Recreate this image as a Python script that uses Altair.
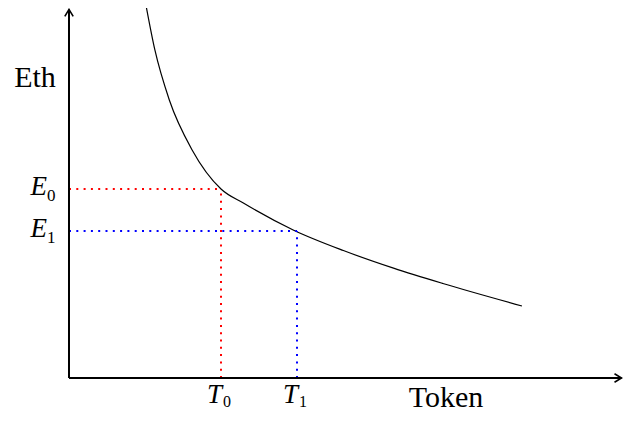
import altair as alt
import pandas as pd

# ---- data ----
curve_x = [1.00, 1.13, 1.32, 1.62, 2.00, 2.30, 2.95, 3.61, 4.27, 4.92, 5.96]
curve_y = [18.0, 15.62, 13.24, 10.86, 9.0, 8.32, 7.05, 6.07, 5.23, 4.50, 3.43]

T_vals = [2.0, 3.0]          # T0, T1
E_vals = [9.0, 7.0]          # E0, E1
guide_colors = ["#ff0000", "#0000ff"]
sub_labels = ["0", "1"]

X_MIN, X_MAX = -0.8026, 7.2895
Y_MIN, Y_MAX = -1.667, 17.619
X_END, Y_END = 7.27, 17.55

W, H = 615, 405
SERIF = "Liberation Serif"

xs = alt.Scale(domain=[X_MIN, X_MAX], nice=False, zero=False)
ys = alt.Scale(domain=[Y_MIN, Y_MAX], nice=False, zero=False)

curve_df = pd.DataFrame({"x": curve_x, "y": curve_y})
guides = pd.DataFrame({"T": T_vals, "E": E_vals, "c": guide_colors, "s": sub_labels, "zero": [0.0, 0.0]})
axis_df = pd.DataFrame({"a": [0.0], "xe": [X_END], "ye": [Y_END]})

X = lambda f: alt.X(f, scale=xs, axis=None)
Y = lambda f: alt.Y(f, scale=ys, axis=None)

curve = alt.Chart(curve_df).mark_line(color="black", strokeWidth=1.2, interpolate="monotone", clip=True).encode(
    x=X("x:Q"), y=Y("y:Q"),
)

layers = [curve]
for i in range(2):
    g = guides.iloc[[i]]
    hline = alt.Chart(g).mark_rule(color=guide_colors[i], strokeWidth=2, strokeDash=[2, 5.3]).encode(
        x=X("zero:Q"), x2="T:Q", y=Y("E:Q"),
    )
    vline = alt.Chart(g).mark_rule(color=guide_colors[i], strokeWidth=2, strokeDash=[2, 5.3]).encode(
        x=X("T:Q"), y=Y("zero:Q"), y2="E:Q",
    )
    layers += [hline, vline]

# axes lines
yaxis = alt.Chart(axis_df).mark_rule(color="black", strokeWidth=2).encode(
    x=X("a:Q"), y=Y("a:Q"), y2="ye:Q",
)
xaxis = alt.Chart(axis_df).mark_rule(color="black", strokeWidth=2).encode(
    x=X("a:Q"), x2="xe:Q", y=Y("a:Q"),
)
up_arrow = alt.Chart(axis_df).mark_point(
    shape="M-0.6,1 L0,0 L0.6,1", filled=False, stroke="black", strokeWidth=1.6, size=196, opacity=1
).encode(x=X("a:Q"), y=Y("ye:Q"))
right_arrow = alt.Chart(axis_df).mark_point(
    shape="M-1,-0.6 L0,0 L-1,0.6", filled=False, stroke="black", strokeWidth=1.6, size=196, opacity=1
).encode(x=X("xe:Q"), y=Y("a:Q"))
layers += [yaxis, xaxis, up_arrow, right_arrow]

# labels
E_main = alt.Chart(guides).mark_text(font=SERIF, fontStyle="italic", fontSize=27, align="right",
                                     baseline="alphabetic", dx=-22, dy=6, text="E").encode(
    x=X("zero:Q"), y=Y("E:Q"))
E_sub = alt.Chart(guides).mark_text(font=SERIF, fontSize=17, align="left",
                                    baseline="alphabetic", dx=-22, dy=12).encode(
    x=X("zero:Q"), y=Y("E:Q"), text="s:N")
T_main = alt.Chart(guides).mark_text(font=SERIF, fontStyle="italic", fontSize=27, align="right",
                                     baseline="alphabetic", dx=1, dy=25, text="T").encode(
    x=X("T:Q"), y=Y("zero:Q"))
T_sub = alt.Chart(guides).mark_text(font=SERIF, fontSize=16, align="left",
                                    baseline="alphabetic", dx=2, dy=29).encode(
    x=X("T:Q"), y=Y("zero:Q"), text="s:N")
token = alt.Chart(axis_df).mark_text(font=SERIF, fontSize=30, align="center", baseline="alphabetic",
                                     dx=377, dy=29, text="Token").encode(
    x=X("a:Q"), y=Y("a:Q"))
eth = alt.Chart(axis_df).mark_text(font=SERIF, fontSize=30, align="center", baseline="alphabetic",
                                   dx=-34, dy=-291, text="Eth").encode(
    x=X("a:Q"), y=Y("a:Q"))
layers += [E_main, E_sub, T_main, T_sub, token, eth]

chart = alt.layer(*layers).properties(
    width=W, height=H, autosize=alt.AutoSizeParams(type="none"), padding=0
).configure_view(stroke=None)

chart.save("out.html", embed_options={"renderer": "svg", "actions": False})
